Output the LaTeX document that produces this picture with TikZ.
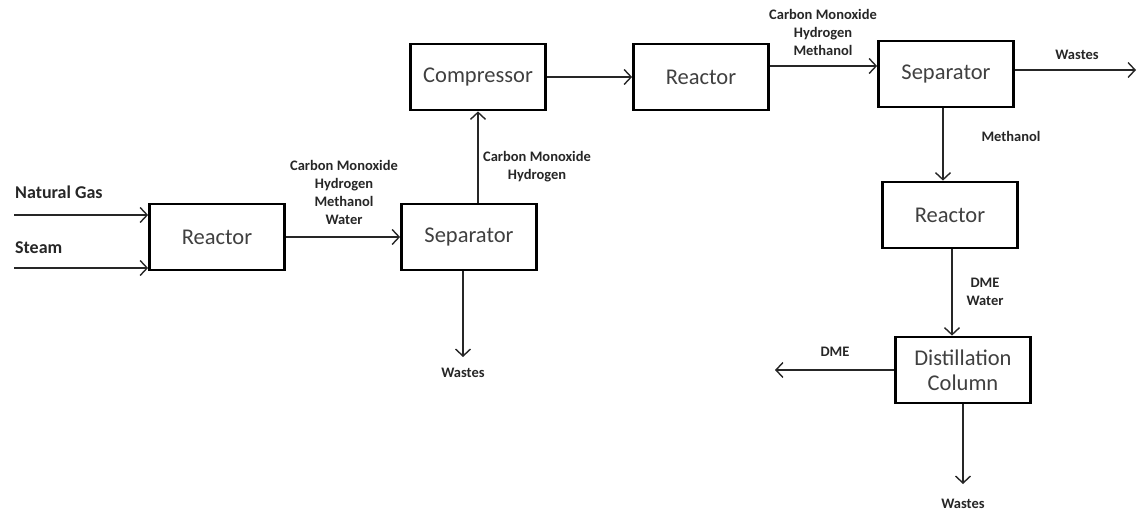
\documentclass[tikz,border=0pt]{standalone}
\usepackage{fontspec}
\setmainfont{Carlito}
\usepackage{tikz}
\usetikzlibrary{arrows.meta,positioning,calc}
\definecolor{unitgrey}{HTML}{404040}
\definecolor{streamink}{HTML}{262626}

\begin{document}
\begin{tikzpicture}[x=1pt,y=-1pt,
  unit/.style={draw=black,line width=2.8pt,fill=white,align=center,minimum width=135pt,minimum height=66pt,inner sep=2pt,
    text=unitgrey,font=\fontsize{22.5}{25}\selectfont},
  stream/.style={align=center,text=streamink,inner sep=0pt,font=\fontsize{14.5}{18}\selectfont\bfseries},
  feed/.style={stream,anchor=west,font=\fontsize{18}{20}\selectfont\bfseries},
  ar/.style={-{Straight Barb[length=7pt,width=15pt,line width=1.4pt]},draw=black!85,line width=1.6pt}]

\useasboundingbox (0,0) rectangle (1138,513);

\node[unit] (r1) at (217,237) {Reactor};
\node[unit] (s1) at (469,237) {Separator};
\node[unit] (cmp) at (478,77) {Compressor};
\node[unit] (r2) at (701,77) {Reactor};
\node[unit] (s2) at (946,74) {Separator};
\node[unit] (r3) at (950,215) {Reactor};
\node[unit] (dc) at (963,370) {Distillation\\Column};

\coordinate (ng)  at (14,215);
\coordinate (stm) at (14,268);
\coordinate (w1)  at (463,357);
\coordinate (w2)  at (1136,70);
\coordinate (dme) at (775,370);
\coordinate (w3)  at (963,484);

\node[feed] (lng)  at (15,192) {Natural Gas};
\node[feed] (lstm) at (15,248) {Steam};
\node[stream] (lmix)  at (344,192) {Carbon Monoxide\\Hydrogen\\Methanol\\Water};
\node[stream] (lsyn)  at (537,167) {Carbon Monoxide\\Hydrogen};
\node[stream] (lw1)   at (463,373) {Wastes};
\node[stream] (lout)  at (823,32)  {Carbon Monoxide\\Hydrogen\\Methanol};
\node[stream] (lw2)   at (1077,55) {Wastes};
\node[stream] (lmeth) at (1011,136) {Methanol};
\node[stream] (ldw)   at (985,292) {DME\\Water};
\node[stream] (ldme)  at (835,352) {DME};
\node[stream] (lw3)   at (963,504) {Wastes};

\draw[ar] (ng) -- (ng -| r1.west);
\draw[ar] (stm) -- (stm -| r1.west);
\draw[ar] (r1) -- (s1);
\draw[ar] (s1.north -| cmp) -- (cmp.south);
\draw[ar] (s1.south -| w1) -- (w1);
\draw[ar] (cmp) -- (r2);
\draw[ar] ([yshift=11pt]r2.east) -- ([yshift=11pt]r2.east -| s2.west);
\draw[ar] (s2.east |- w2) -- (w2);
\draw[ar] (s2.south -| 943,0) -- (r3.north -| 943,0);
\draw[ar] (r3.south -| 952,0) -- (dc.north -| 952,0);
\draw[ar] (dc.west) -- (dme);
\draw[ar] (dc.south) -- (w3);
\end{tikzpicture}
\end{document}
